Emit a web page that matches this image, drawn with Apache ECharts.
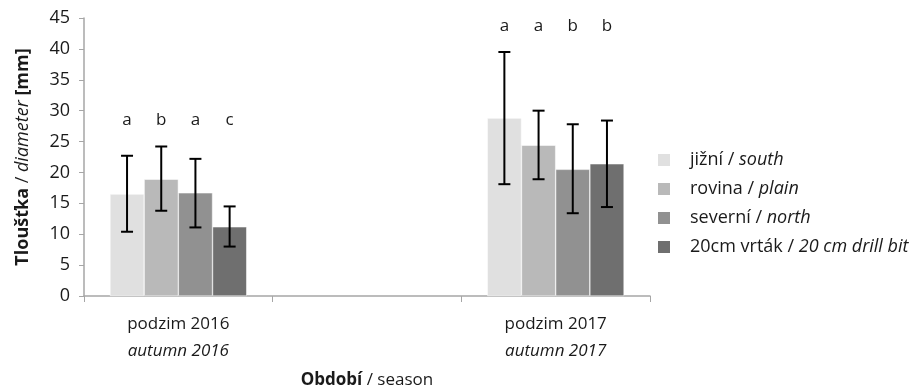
<!DOCTYPE html>
<html><head><meta charset="utf-8">
<script src="https://cdn.jsdelivr.net/npm/echarts@6/dist/echarts.min.js"></script>
<style>html,body{margin:0;padding:0;background:#fff}#c{width:909px;height:390px}</style>
</head><body><div id="c"></div>
<script>
var categories = ['podzim 2016', '', 'podzim 2017'];
var categoriesEn = ['autumn 2016', '', 'autumn 2017'];
var seriesNames = ['jižní', 'rovina', 'severní', '20cm vrták'];
var seriesNamesEn = ['south', 'plain', 'north', '20 cm drill bit'];
var south = [16.5, '-', 28.8];
var plain = [18.9, '-', 24.4];
var north = [16.7, '-', 20.5];
var drill = [11.2, '-', 21.4];
var southErrHigh = [22.7, '-', 39.5];
var southErrLow = [10.4, '-', 18.1];
var plainErrHigh = [24.2, '-', 30.0];
var plainErrLow = [13.8, '-', 18.9];
var northErrHigh = [22.2, '-', 27.8];
var northErrLow = [11.1, '-', 13.4];
var drillErrHigh = [14.5, '-', 28.4];
var drillErrLow = [8.0, '-', 14.4];
var letters2016 = ['a', 'b', 'a', 'c'];
var letters2017 = ['a', 'a', 'b', 'b'];
var letterLevel = [28.5, '-', 43.6];
var yTicks = [0, 5, 10, 15, 20, 25, 30, 35, 40, 45];

var colors = ['#e0e0e0', '#b9b9b9', '#919191', '#6f6f6f'];
var values = [south, plain, north, drill];
var errHigh = [southErrHigh, plainErrHigh, northErrHigh, drillErrHigh];
var errLow = [southErrLow, plainErrLow, northErrLow, drillErrLow];
var letters = [letters2016, [], letters2017];
var GAP = 0.275;
var FONT = 'Open Sans';
var TXT = '#1a1a1a';

var chart = echarts.init(document.getElementById('c'));
var series = [];
values.forEach(function (v, i) {
  series.push({
    name: seriesNames[i], type: 'bar', data: v, barGap: '0%', barCategoryGap: (GAP * 100) + '%',
    itemStyle: { color: colors[i], borderColor: '#ffffff', borderWidth: 0.5 }, silent: true
  });
});
values.forEach(function (v, i) {
  var d = [];
  for (var k = 0; k < categories.length; k++) {
    if (errHigh[i][k] !== '-') d.push([k, errLow[i][k], errHigh[i][k]]);
  }
  series.push({
    type: 'custom', data: d, z: 5, silent: true,
    renderItem: function (params, api) {
      var k = api.value(0);
      var cw = api.size([1, 0])[0];
      var bw = cw * (1 - GAP) / 4;
      var off = (i - 1.5) * bw;
      var lo = api.coord([k, api.value(1)]);
      var hi = api.coord([k, api.value(2)]);
      var x = lo[0] + off;
      var cap = 6;
      var st = { stroke: '#000', lineWidth: 2 };
      return { type: 'group', children: [
        { type: 'line', shape: { x1: x, y1: lo[1], x2: x, y2: hi[1] }, style: st },
        { type: 'line', shape: { x1: x - cap, y1: lo[1], x2: x + cap, y2: lo[1] }, style: st },
        { type: 'line', shape: { x1: x - cap, y1: hi[1], x2: x + cap, y2: hi[1] }, style: st }
      ]};
    }
  });
});
var letterData = [];
for (var k = 0; k < categories.length; k++) {
  if (letterLevel[k] !== '-') letterData.push([k, letterLevel[k]]);
}
series.push({
  type: 'custom', data: letterData, z: 6, silent: true,
  renderItem: function (params, api) {
    var k = api.value(0);
    var cw = api.size([1, 0])[0];
    var bw = cw * (1 - GAP) / 4;
    var p = api.coord([k, api.value(1)]);
    var ch = [];
    letters[k].forEach(function (t, i) {
      ch.push({ type: 'text', style: { text: t, x: p[0] + (i - 1.5) * bw, y: p[1], align: 'center', verticalAlign: 'middle', font: '17px "' + FONT + '"', fill: TXT } });
    });
    return { type: 'group', children: ch };
  }
});

chart.setOption({
  animation: false,
  textStyle: { fontFamily: FONT },
  color: colors,
  grid: { left: 84, right: 259, top: 18, bottom: 94, containLabel: false, outerBoundsMode: 'none' },
  legend: {
    orient: 'vertical', left: 651, top: 145, itemWidth: 14, itemHeight: 14, itemGap: 9,
    icon: 'rect',
    data: seriesNames,
    formatter: function (n) { var i = seriesNames.indexOf(n); return n + ' / {i|' + seriesNamesEn[i] + '}'; },
    textStyle: { fontSize: 18, color: TXT, fontFamily: FONT, lineHeight: 20, padding: [0, 0, 0, 14],
      rich: { i: { fontStyle: 'italic', fontSize: 18, color: TXT, fontFamily: FONT, lineHeight: 20 } } }
  },
  xAxis: {
    type: 'category', data: categories,
    axisLine: { lineStyle: { color: '#a6a6a6', width: 1.5 } },
    axisTick: { show: true, alignWithLabel: false, length: 6, lineStyle: { color: '#a6a6a6' } },
    axisLabel: {
      interval: 0, margin: 15, color: TXT, fontSize: 17, lineHeight: 27,
      formatter: function (v, idx) { return v ? v + '\n{i|' + categoriesEn[idx] + '}' : ''; },
      rich: { i: { fontStyle: 'italic', fontSize: 17, color: TXT, lineHeight: 27, fontFamily: FONT } }
    },
    name: '{b|Období} / season', nameLocation: 'middle', nameGap: 76,
    nameTextStyle: { fontSize: 17, color: TXT, rich: { b: { fontWeight: 'bold', fontSize: 17, color: TXT, fontFamily: FONT } } }
  },
  yAxis: {
    type: 'value', min: yTicks[0], max: yTicks[yTicks.length - 1], interval: 5,
    axisLine: { show: true, lineStyle: { color: '#a6a6a6', width: 1.5 } },
    axisTick: { show: true, length: 5, lineStyle: { color: '#a6a6a6' } },
    splitLine: { show: false },
    axisLabel: { color: TXT, fontSize: 18, margin: 14 },
    name: '{b|Tloušťka} / {i|diameter} {b|[mm]}', nameLocation: 'middle', nameGap: 52, nameRotate: 90,
    nameTextStyle: { fontSize: 18, color: TXT, rich: {
      b: { fontWeight: 'bold', fontSize: 18, color: TXT, fontFamily: FONT },
      i: { fontStyle: 'italic', fontSize: 18, color: TXT, fontFamily: FONT } } }
  },
  series: series
});
</script></body></html>
